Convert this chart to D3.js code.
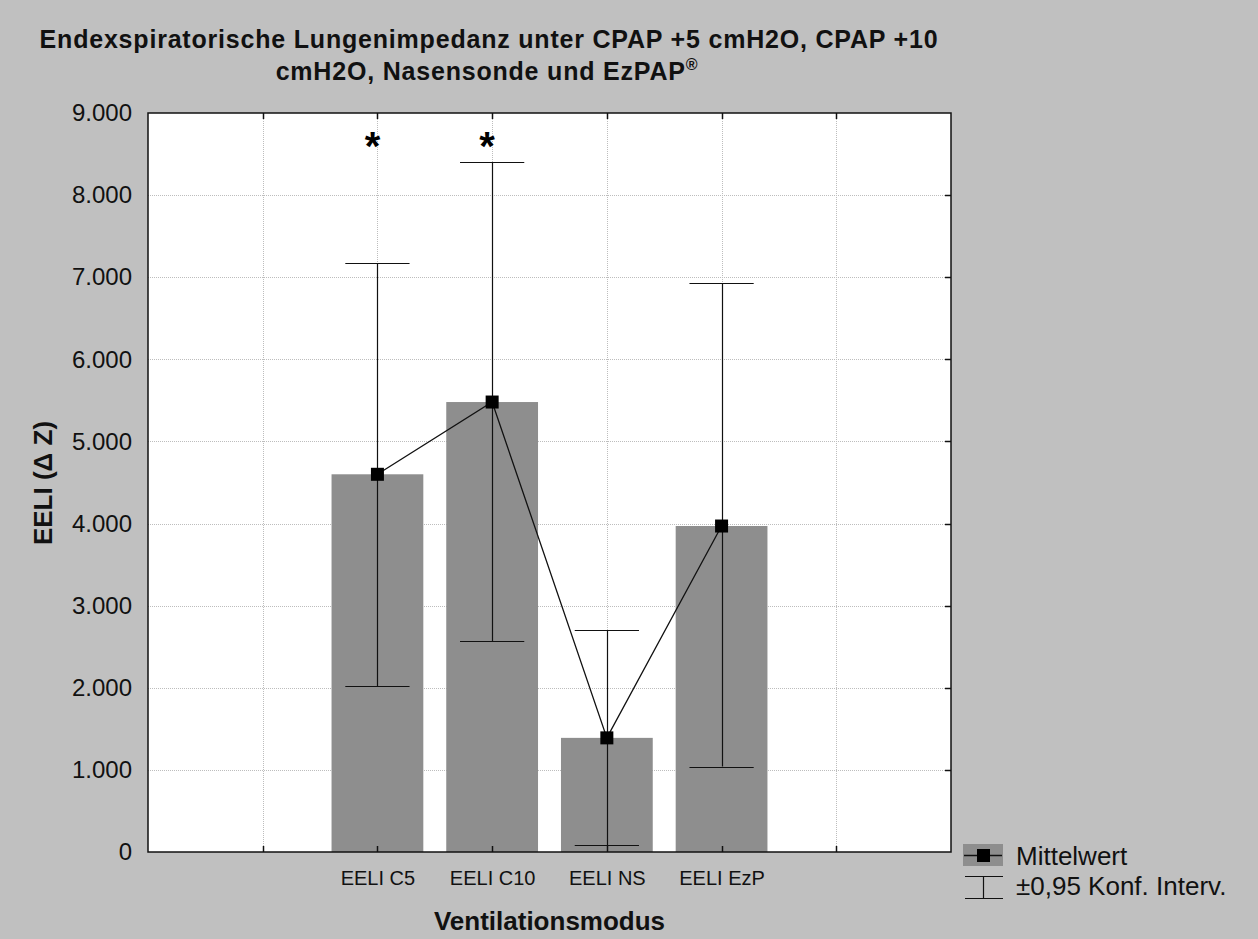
<!DOCTYPE html>
<html>
<head>
<meta charset="utf-8">
<script src="https://cdn.jsdelivr.net/npm/d3@7"></script>
<style>
  html, body { margin: 0; padding: 0; background: #c0c0c0; }
  svg { display: block; font-family: "Liberation Sans", Arial, sans-serif; }
</style>
</head>
<body>
<svg id="chart" width="1258" height="939"></svg>
<script>
// Ventilation modes and EELI means with 95% confidence limits
const categories = ["EELI C5", "EELI C10", "EELI NS", "EELI EzP"];
const means      = [4600, 5480, 1390, 3970];
const ciLower    = [2020, 2570, 80, 1040];
const ciUpper    = [7170, 8400, 2700, 6930];
const significant = [true, true, false, false];
const yTicks     = [0, 1000, 2000, 3000, 4000, 5000, 6000, 7000, 8000, 9000];
const xGridTicks = [1, 2, 3, 4, 5, 6];

const W = 1258, H = 939;
const plot = { left: 148, right: 951, top: 113, bottom: 852 };

const svg = d3.select("#chart");
svg.append("rect").attr("width", W).attr("height", H).attr("fill", "#c0c0c0");

const x = d3.scaleLinear().domain([0, 7]).range([plot.left, plot.right]);
const y = d3.scaleLinear().domain([0, 9000]).range([plot.bottom, plot.top]);
const pos = i => i + 2;
const fmt = v => v === 0 ? "0" : d3.format(",")(v).replace(/,/g, ".");

// plot area
svg.append("rect")
  .attr("x", plot.left).attr("y", plot.top)
  .attr("width", plot.right - plot.left).attr("height", plot.bottom - plot.top)
  .attr("fill", "#ffffff");

// dotted grid
const grid = svg.append("g").attr("stroke", "#bdbdbd").attr("stroke-width", 1).attr("stroke-dasharray", "1,1");
grid.selectAll("line.h").data(yTicks.slice(1, -1)).join("line")
  .attr("x1", plot.left).attr("x2", plot.right)
  .attr("y1", d => Math.round(y(d)) + 0.5).attr("y2", d => Math.round(y(d)) + 0.5);
grid.selectAll("line.v").data(xGridTicks).join("line")
  .attr("y1", plot.top).attr("y2", plot.bottom)
  .attr("x1", d => Math.round(x(d)) + 0.5).attr("x2", d => Math.round(x(d)) + 0.5);

// bars
const barW = 0.8;
svg.append("g").selectAll("rect").data(means).join("rect")
  .attr("x", (d, i) => x(pos(i) - barW / 2))
  .attr("width", x(barW) - x(0))
  .attr("y", d => y(d))
  .attr("height", d => y(0) - y(d))
  .attr("fill", "#8e8e8e");

// confidence intervals
const capW = 0.56;
const ci = svg.append("g").attr("stroke", "#111").attr("stroke-width", 1.2);
categories.forEach((c, i) => {
  const cx = Math.round(x(pos(i))) + 0.5;
  ci.append("line").attr("x1", cx).attr("x2", cx).attr("y1", y(ciLower[i])).attr("y2", y(ciUpper[i]));
  [ciLower[i], ciUpper[i]].forEach(v => {
    ci.append("line")
      .attr("x1", x(pos(i) - capW / 2)).attr("x2", x(pos(i) + capW / 2))
      .attr("y1", Math.round(y(v)) + 0.5).attr("y2", Math.round(y(v)) + 0.5);
  });
});

// mean line and markers
const line = d3.line().x((d, i) => x(pos(i))).y(d => y(d));
svg.append("path").datum(means).attr("d", line)
  .attr("fill", "none").attr("stroke", "#111").attr("stroke-width", 1.3);
const ms = 13;
svg.append("g").selectAll("rect").data(means).join("rect")
  .attr("x", (d, i) => x(pos(i)) - ms / 2).attr("y", d => y(d) - ms / 2)
  .attr("width", ms).attr("height", ms).attr("fill", "#000");

// significance marks
svg.append("g").selectAll("text").data(categories.filter((c, i) => significant[i]))
  .join("text")
  .attr("x", (d) => x(pos(categories.indexOf(d))) - 5)
  .attr("y", 160)
  .attr("text-anchor", "middle")
  .attr("font-size", 40).attr("font-weight", "bold").attr("fill", "#000")
  .text("*");

// frame
svg.append("rect")
  .attr("x", plot.left).attr("y", plot.top)
  .attr("width", plot.right - plot.left).attr("height", plot.bottom - plot.top)
  .attr("fill", "none").attr("stroke", "#111").attr("stroke-width", 1.5);

// axes
const yAxis = d3.axisLeft(y).tickValues(yTicks).tickFormat(fmt).tickSize(0).tickPadding(16);
const gy = svg.append("g").attr("transform", `translate(${plot.left},0)`).call(yAxis);
gy.select(".domain").remove();
gy.selectAll("text").attr("font-size", 24).attr("fill", "#111")
  .attr("font-family", "'Liberation Sans', Arial, sans-serif");

// inner ticks on frame
const ticks = svg.append("g").attr("stroke", "#111").attr("stroke-width", 1.5);
ticks.selectAll("line.r").data(yTicks.slice(1, -1)).join("line")
  .attr("x1", plot.right - 6).attr("x2", plot.right)
  .attr("y1", d => Math.round(y(d)) + 0.5).attr("y2", d => Math.round(y(d)) + 0.5);
ticks.selectAll("line.b").data(xGridTicks).join("line")
  .attr("x1", d => Math.round(x(d)) + 0.5).attr("x2", d => Math.round(x(d)) + 0.5)
  .attr("y1", plot.bottom - 6).attr("y2", plot.bottom);
ticks.selectAll("line.t").data(xGridTicks).join("line")
  .attr("x1", d => Math.round(x(d)) + 0.5).attr("x2", d => Math.round(x(d)) + 0.5)
  .attr("y1", plot.top).attr("y2", plot.top + 6);

const xAxis = d3.axisBottom(x).tickValues(categories.map((c, i) => pos(i)))
  .tickFormat((d) => categories[d - 2]).tickSize(0).tickPadding(19);
const gx = svg.append("g").attr("transform", `translate(0,${plot.bottom})`).call(xAxis);
gx.select(".domain").remove();
gx.selectAll("text").attr("font-size", 20).attr("fill", "#111")
  .attr("font-family", "'Liberation Sans', Arial, sans-serif");

// titles
const title = svg.append("text").attr("text-anchor", "middle")
  .attr("font-size", 25).attr("font-weight", "bold").attr("fill", "#111")
  .attr("letter-spacing", 0.8);
title.append("tspan").attr("x", 489).attr("y", 48)
  .text("Endexspiratorische Lungenimpedanz unter CPAP +5 cmH2O, CPAP +10");
const t2 = title.append("tspan").attr("x", 487).attr("y", 80);
t2.append("tspan").text("cmH2O, Nasensonde und EzPAP");
t2.append("tspan").attr("font-size", 16).attr("dy", -10).text("®");

svg.append("text")
  .attr("transform", `translate(52,${483}) rotate(-90)`)
  .attr("text-anchor", "middle").attr("font-size", 26).attr("font-weight", "bold").attr("fill", "#111")
  .text("EELI (Δ Z)");

svg.append("text")
  .attr("x", (x(2) + x(5)) / 2).attr("y", 930)
  .attr("text-anchor", "middle").attr("font-size", 26).attr("font-weight", "bold").attr("fill", "#111")
  .text("Ventilationsmodus");

// legend
const lg = svg.append("g");
lg.append("rect").attr("x", 963).attr("y", 844).attr("width", 40).attr("height", 22).attr("fill", "#8e8e8e");
lg.append("line").attr("x1", 964).attr("x2", 1002).attr("y1", 855.5).attr("y2", 855.5)
  .attr("stroke", "#111").attr("stroke-width", 1.3);
lg.append("rect").attr("x", 977).attr("y", 849).attr("width", 13).attr("height", 13).attr("fill", "#000");
lg.append("text").attr("x", 1016).attr("y", 865).attr("font-size", 26).attr("fill", "#111").text("Mittelwert");
const lgc = lg.append("g").attr("stroke", "#111").attr("stroke-width", 1.2);
lgc.append("line").attr("x1", 965).attr("x2", 1003).attr("y1", 876.5).attr("y2", 876.5);
lgc.append("line").attr("x1", 965).attr("x2", 1003).attr("y1", 898.5).attr("y2", 898.5);
lgc.append("line").attr("x1", 983.5).attr("x2", 983.5).attr("y1", 876).attr("y2", 899);
lg.append("text").attr("x", 1016).attr("y", 895).attr("font-size", 26).attr("fill", "#111").text("±0,95 Konf. Interv.");
</script>
</body>
</html>
